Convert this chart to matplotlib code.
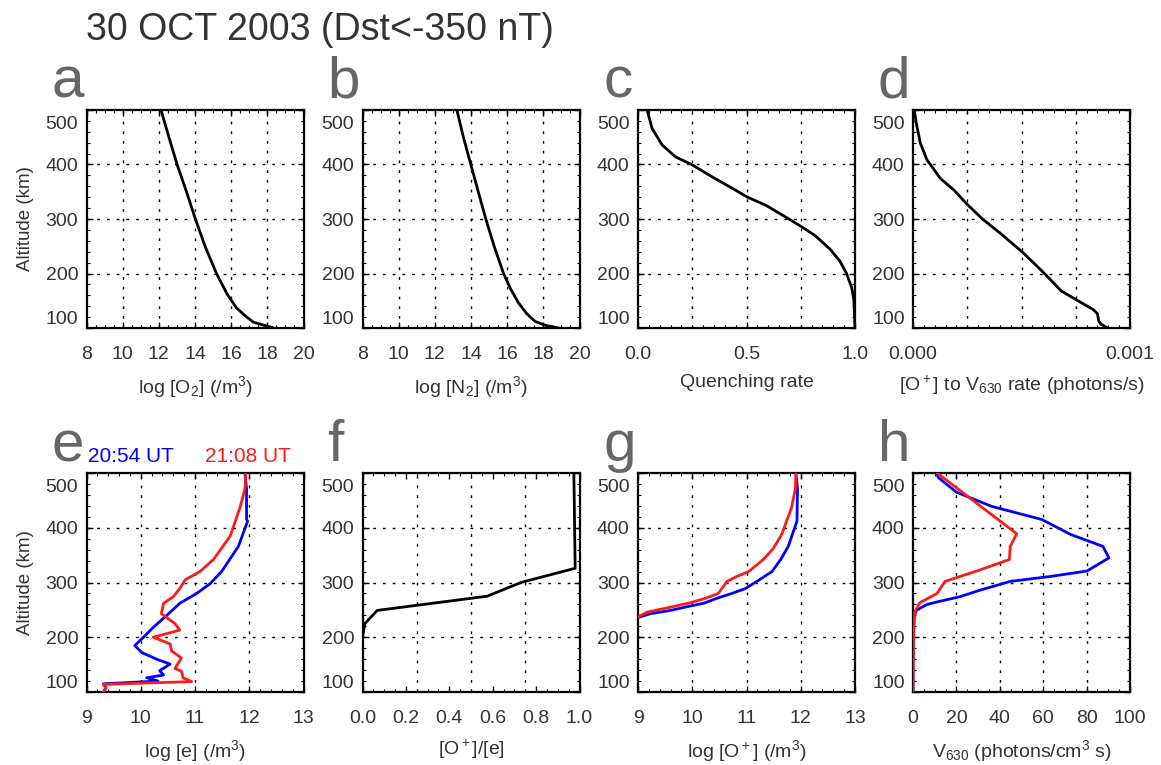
import numpy as np
import matplotlib.pyplot as plt
from matplotlib.ticker import MultipleLocator
from matplotlib.transforms import ScaledTranslation

plt.rcParams['font.family'] = ['Liberation Sans', 'DejaVu Sans']
plt.rcParams['mathtext.fontset'] = 'custom'
plt.rcParams['mathtext.rm'] = 'Liberation Sans'
plt.rcParams['mathtext.it'] = 'Liberation Sans:italic'
plt.rcParams['mathtext.default'] = 'regular'

# ---- neutral atmosphere / rate profiles (top row) ----
alt_o2 = [101, 106, 111, 122, 137, 162, 200, 248, 300, 350, 400, 451, 500]
log_o2 = [18.27, 17.71, 17.21, 16.79, 16.29, 15.78, 15.19, 14.58, 14.02, 13.53, 13.01, 12.55, 12.12]

alt_n2 = [100, 105, 112, 126, 146, 171, 200, 250, 300, 349, 400, 450, 500]
log_n2 = [18.84, 18.1, 17.55, 17.09, 16.63, 16.2, 15.8, 15.28, 14.82, 14.41, 13.99, 13.58, 13.22]

alt_q = [101, 150, 174, 200, 223, 245, 270, 288, 303, 325, 340, 356, 377, 400, 414, 436, 466, 500]
quench = [1.0, 0.995, 0.985, 0.961, 0.93, 0.884, 0.815, 0.745, 0.683, 0.59, 0.505, 0.436, 0.343, 0.247,
          0.173, 0.111, 0.065, 0.042]

alt_rate = [101, 107, 113, 126, 134, 150, 168, 200, 239, 273, 300, 328, 353, 374, 400, 408, 439, 476, 500]
o_rate = [0.892e-3, 0.866e-3, 0.856e-3, 0.850e-3, 0.830e-3, 0.760e-3, 0.683e-3, 0.606e-3, 0.505e-3, 0.405e-3,
          0.320e-3, 0.247e-3, 0.189e-3, 0.127e-3, 0.080e-3, 0.065e-3, 0.034e-3, 0.015e-3, 0.006e-3]

# ---- ionosphere at 20:54 UT (blue) and 21:08 UT (red) ----
alt_e_2054 = [98, 108, 115, 120, 126, 131, 139, 151, 160, 172, 185, 200, 218, 240, 262, 280, 298, 320, 366, 412, 415, 471, 500]
log_e_2054 = [9.30, 9.36, 9.31, 10.32, 10.11, 10.42, 10.35, 10.54, 10.29, 10.02, 9.89, 10.05, 10.23, 10.48, 10.72,
              11.03, 11.28, 11.49, 11.80, 11.97, 11.95, 11.95, 11.92]
alt_e_2108 = [98, 108, 114, 119, 126, 138, 143, 162, 175, 188, 200, 213, 225, 243, 262, 274, 289, 305, 320, 342,
              385, 437, 471, 500]
log_e_2108 = [9.30, 9.36, 9.31, 10.94, 10.78, 10.75, 10.63, 10.75, 10.57, 10.54, 10.23, 10.72, 10.63, 10.38, 10.42,
              10.60, 10.72, 10.82, 11.09, 11.34, 11.65, 11.83, 11.92, 11.94]

alt_frac = [100, 200, 225, 249, 275, 300, 326, 500]
o_frac = [0.0, 0.0, 0.011, 0.068, 0.575, 0.73, 0.98, 0.974]

alt_op_2054 = [236, 243, 249, 257, 262, 271, 280, 289, 302, 320, 342, 366, 412, 471, 500]
log_op_2054 = [9.0, 9.23, 9.60, 9.96, 10.21, 10.45, 10.73, 10.98, 11.19, 11.47, 11.63, 11.77, 11.93, 11.94, 11.91]
alt_op_2108 = [237, 246, 255, 263, 271, 280, 302, 311, 320, 342, 363, 388, 437, 471, 500]
log_op_2108 = [9.0, 9.17, 9.60, 9.96, 10.24, 10.48, 10.64, 10.82, 11.04, 11.31, 11.50, 11.65, 11.83, 11.90, 11.91]

alt_v_2054 = [100, 150, 237, 249, 260, 265, 274, 286, 302, 311, 321, 345, 366, 388, 415, 439, 465, 492, 500]
v630_2054 = [0, 0, 0.5, 1.5, 6.5, 11.6, 21.6, 30.9, 44.8, 63.3, 80.2, 90.3, 87.5, 72.5, 59.4, 36.3, 20.0, 11.6, 10.8]
alt_v_2108 = [100, 212, 246, 263, 280, 302, 323, 342, 366, 389, 500]
v630_2108 = [0, 0.3, 0.8, 3.1, 11.1, 14.7, 30.9, 44.4, 44.8, 47.8, 11.1]

BLUE = '#0000ff'
RED = '#ff1a1a'
TXT = '#333333'
LETTER = '#666666'

W, H = 1161, 765
fig = plt.figure(figsize=(W / 100, H / 100), dpi=100)

col_left = [86.5, 362.5, 638, 913]
col_w = 217
rows = [(110, 328), (473, 692)]


def make_axes(row, col):
    top, bot = rows[row]
    return fig.add_axes([col_left[col] / W, 1 - bot / H, col_w / W, (bot - top) / H])


def style(ax, xlim, xticks, xlabels, xgrid, xminor, xlabel, ylabel=False):
    ax.set_xlim(*xlim)
    ax.set_ylim(100, 500)
    ax.set_xticks(xticks)
    ax.set_xticklabels(xlabels)
    ax.set_yticks([100, 200, 300, 400, 500])
    ax.xaxis.set_minor_locator(MultipleLocator(xminor))
    ax.yaxis.set_minor_locator(MultipleLocator(20))
    ax.tick_params(which='both', direction='in', top=True, right=True, colors='black',
                   labelcolor=TXT, labelsize=14)
    ax.tick_params(which='major', length=4, width=1)
    ax.tick_params(which='minor', length=2.5, width=0.8)
    ax.tick_params(axis='x', pad=13)
    ax.tick_params(axis='y', pad=6)
    for s in ax.spines.values():
        s.set_linewidth(1.6)
    for g in xgrid:
        ax.axvline(g, color='black', lw=1, ls=(0, (2, 5)), zorder=1)
    for g in [200, 300, 400]:
        ax.axhline(g, color='black', lw=1, ls=(0, (2, 5)), zorder=1)
    # end labels of the altitude axis sit inside the frame
    ylabs = ax.get_yticklabels()
    ylabs[0].set_va('bottom')
    ylabs[-1].set_va('top')
    ylabs[-1].set_transform(ylabs[-1].get_transform() + ScaledTranslation(0, -0.06, fig.dpi_scale_trans))
    ax.set_xlabel(xlabel, fontsize=14, color=TXT, labelpad=8)
    if ylabel:
        ax.set_ylabel('Altitude (km)', fontsize=13.5, color=TXT, labelpad=8)


def letter(row, col, s):
    top, _ = rows[row]
    fig.text((col_left[col] - 35) / W, 1 - (top - 12) / H, s, fontsize=42, color=LETTER,
             ha='left', va='baseline')


lw = 2.0

# a
ax = make_axes(0, 0)
ax.plot(log_o2, alt_o2, color='black', lw=lw, zorder=3)
style(ax, (8, 20), range(8, 21, 2), [str(v) for v in range(8, 21, 2)], [10, 12, 14, 16, 18], 0.5,
      r'log [O$_2$] (/m$^3$)', ylabel=True)
letter(0, 0, 'a')

# b
ax = make_axes(0, 1)
ax.plot(log_n2, alt_n2, color='black', lw=lw, zorder=3)
style(ax, (8, 20), range(8, 21, 2), [str(v) for v in range(8, 21, 2)], [10, 12, 14, 16, 18], 0.5,
      r'log [N$_2$] (/m$^3$)')
letter(0, 1, 'b')

# c
ax = make_axes(0, 2)
ax.plot(quench, alt_q, color='black', lw=lw, zorder=3)
style(ax, (0, 1), [0, 0.5, 1.0], ['0.0', '0.5', '1.0'], [0.25, 0.5, 0.75], 0.05, 'Quenching rate')
letter(0, 2, 'c')

# d
ax = make_axes(0, 3)
ax.plot(o_rate, alt_rate, color='black', lw=lw, zorder=3)
style(ax, (0, 0.001), [0, 0.001], ['0.000', '0.001'], [0.00025, 0.0005, 0.00075], 0.00005,
      r'[O$^+$] to V$_{630}$ rate (photons/s)')
letter(0, 3, 'd')

# e
ax = make_axes(1, 0)
ax.plot(log_e_2054, alt_e_2054, color=BLUE, lw=lw, zorder=3)
ax.plot(log_e_2108, alt_e_2108, color=RED, lw=lw, zorder=4)
style(ax, (9, 13), range(9, 14), [str(v) for v in range(9, 14)], [10, 11, 12], 0.2,
      r'log [e] (/m$^3$)', ylabel=True)
letter(1, 0, 'e')
fig.text(88 / W, 1 - 462 / H, '20:54 UT', fontsize=15, color=BLUE, ha='left', va='baseline')
fig.text(205 / W, 1 - 462 / H, '21:08 UT', fontsize=15, color=RED, ha='left', va='baseline')

# f
ax = make_axes(1, 1)
ax.plot(o_frac, alt_frac, color='black', lw=lw, zorder=3)
style(ax, (0, 1), np.arange(0, 1.01, 0.2), ['0.0', '0.2', '0.4', '0.6', '0.8', '1.0'],
      [0.25, 0.5, 0.75], 0.05, r'[O$^+$]/[e]')
letter(1, 1, 'f')

# g
ax = make_axes(1, 2)
ax.plot(log_op_2054, alt_op_2054, color=BLUE, lw=lw, zorder=3)
ax.plot(log_op_2108, alt_op_2108, color=RED, lw=lw, zorder=4)
style(ax, (9, 13), range(9, 14), [str(v) for v in range(9, 14)], [10, 11, 12], 0.2,
      r'log [O$^+$] (/m$^3$)')
letter(1, 2, 'g')

# h
ax = make_axes(1, 3)
ax.plot(v630_2054, alt_v_2054, color=BLUE, lw=lw, zorder=3)
ax.plot(v630_2108, alt_v_2108, color=RED, lw=lw, zorder=4)
style(ax, (0, 100), range(0, 101, 20), [str(v) for v in range(0, 101, 20)], [20, 40, 60, 80], 5,
      r'V$_{630}$ (photons/cm$^3$ s)')
letter(1, 3, 'h')

fig.text(86 / W, 1 - 40 / H, '30 OCT 2003 (Dst<-350 nT)', fontsize=27, color=TXT, ha='left', va='baseline')

fig.savefig('out.png', dpi=100)
